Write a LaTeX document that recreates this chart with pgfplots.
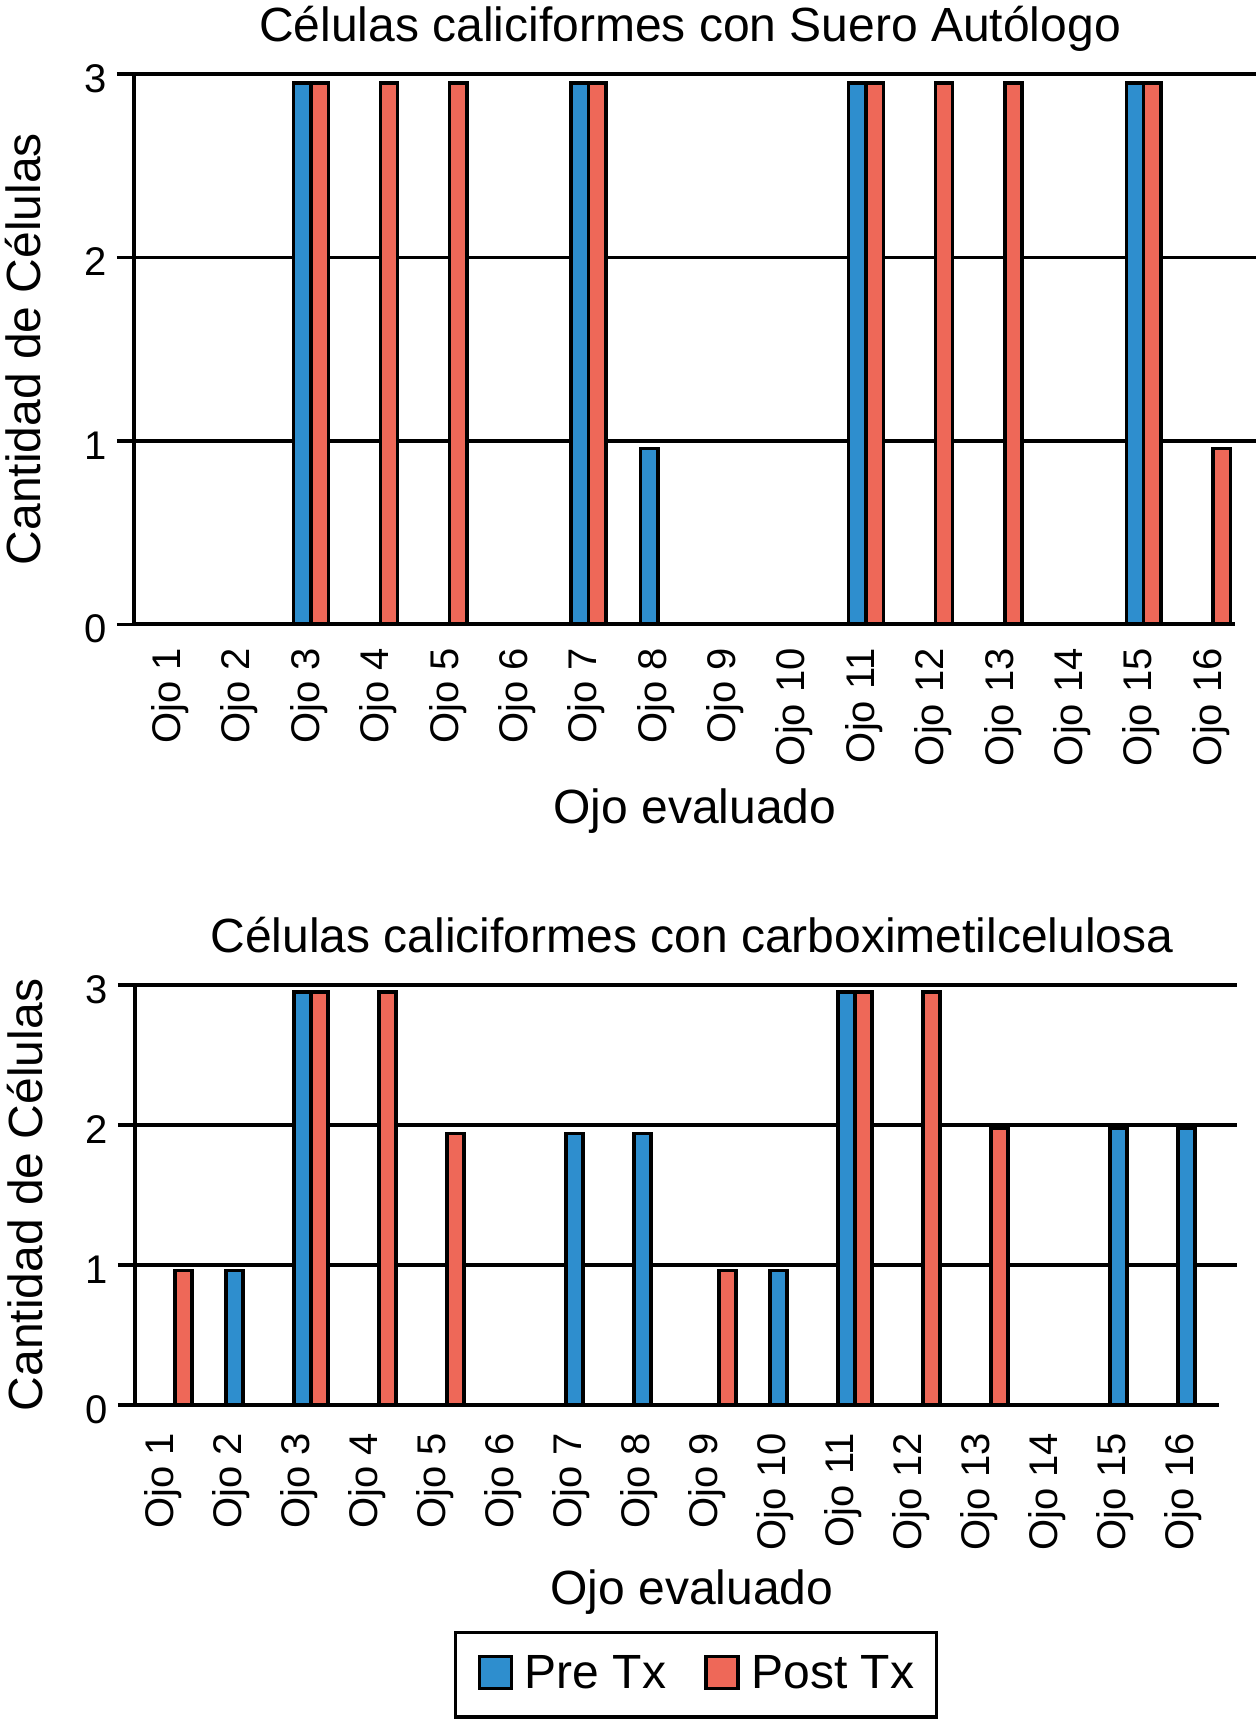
\documentclass[border=0pt]{standalone}
\usepackage{fontspec}
\setmainfont{Liberation Sans}
\usepackage{pgfplots}
\pgfplotsset{compat=1.18}
\definecolor{preblue}{RGB}{46,142,206}
\definecolor{postred}{RGB}{238,104,88}

\pgfplotsset{
  common/.style={
    scale only axis,
    clip=false,
    ymin=0, ymax=3,
    axis x line*=bottom, axis y line*=left,
    axis line style={-, black, line width=0.95pt},
    x axis line style={draw=none},
    ytick={1,2,3},
    extra y ticks={0},
    extra y tick style={grid=none},
    ymajorgrids,
    major grid style={black, line width=0.85pt},
    ytick pos=left,
    tick align=outside,
    major tick length=4.25pt,
    ytick style={black, line width=0.85pt},
    xtick={0,...,15},
    xticklabels={Ojo 1,Ojo 2,Ojo 3,Ojo 4,Ojo 5,Ojo 6,Ojo 7,Ojo 8,Ojo 9,Ojo 10,Ojo 11,Ojo 12,Ojo 13,Ojo 14,Ojo 15,Ojo 16},
    xtick style={draw=none},
    /pgf/number format/assume math mode=true,
    tick label style={font=\fontsize{10}{12}\selectfont},
    yticklabel style={anchor=east, inner sep=0pt, xshift=-2.25pt, yshift=-1.1pt},
    every axis title/.style={at={(axis description cs:0.5,1)}, anchor=base, yshift=8.1pt, font=\fontsize{12}{14}\selectfont},
    every axis x label/.style={at={(axis description cs:0.5,0)}, anchor=base, yshift=-49.75pt, font=\fontsize{12}{14}\selectfont},
    every axis y label/.style={at={(axis description cs:0,0.5)}, xshift=-23.25pt, rotate=90, anchor=base, font=\fontsize{12}{14}\selectfont},
    xlabel={Ojo evaluado},
    ylabel={Cantidad de Células},
  },
  legsq/.style={legend image code/.code={\draw[##1,/tikz/.cd,draw=black,line width=0.85pt] (0pt,0pt) rectangle (8pt,8pt);}},
  barpre/.style={ybar, bar width=0.25, bar shift=-0.125, fill=preblue, draw=black, line width=0.85pt, legsq},
  barpost/.style={ybar, bar width=0.25, bar shift=0.125, fill=postred, draw=black, line width=0.85pt, legsq},
}

\begin{document}
\begin{tikzpicture}
\useasboundingbox (0,0) rectangle (314pt,430.5pt);

% Top chart: Suero Autologo
\begin{axis}[common,
  at={(33.5pt,274.4pt)}, anchor=south west,
  width=280.5pt, height=137.6pt,
  xmin=-0.55, xmax=15.62,
  title={Células caliciformes con Suero Autólogo},
  title style={xshift=-1.25pt},
  xticklabel style={xshift=-0.5pt, yshift=-1.5pt, rotate=90, anchor=east, inner sep=0pt},
]
\addplot[barpre] coordinates {(0,0) (1,0) (2,2.95) (3,0) (4,0) (5,0) (6,2.95) (7,0.96) (8,0) (9,0) (10,2.95) (11,0) (12,0) (13,0) (14,2.95) (15,0)};
\addplot[barpost] coordinates {(0,0) (1,0) (2,2.95) (3,2.95) (4,2.95) (5,0) (6,2.95) (7,0) (8,0) (9,0) (10,2.95) (11,2.95) (12,2.95) (13,0) (14,2.95) (15,0.96)};
\draw[black, line width=0.95pt] (axis cs:-0.55,0) -- (axis cs:15.32,0);
\end{axis}

% Bottom chart: carboximetilcelulosa
\begin{axis}[common,
  at={(33.75pt,79.25pt)}, anchor=south west,
  width=275.5pt, height=105pt,
  xmin=-0.59, xmax=15.62,
  title={Células caliciformes con carboximetilcelulosa},
  title style={xshift=1.5pt},
  x label style={xshift=1.5pt},
  xticklabel style={xshift=-3pt, yshift=-2.5pt, rotate=90, anchor=east, inner sep=0pt},
  legend columns=2,
  legend style={at={(axis description cs:0.509,-0.7476)}, anchor=south,
    draw=black, line width=0.9pt, inner xsep=5.5pt, inner ysep=5.6pt,
    font=\fontsize{12}{14}\selectfont,
    nodes={inner sep=0pt, anchor=base west},
    /tikz/every odd column/.append style={column sep=3pt},
    /tikz/every even column/.append style={column sep=9.5pt}},
]
\addplot[barpre] coordinates {(0,0) (1,0.96) (2,2.95) (3,0) (4,0) (5,0) (6,1.94) (7,1.94) (8,0) (9,0.96) (10,2.95) (11,0) (12,0) (13,0) (14,1.98) (15,1.98)};
\addlegendentry{Pre Tx}
\addplot[barpost] coordinates {(0,0.96) (1,0) (2,2.95) (3,2.95) (4,1.94) (5,0) (6,0) (7,0) (8,0.96) (9,0) (10,2.95) (11,2.95) (12,1.98) (13,0) (14,0) (15,0)};
\addlegendentry{Post Tx}
\draw[black, line width=0.95pt] (axis cs:-0.59,0) -- (axis cs:15.35,0);
\end{axis}
\end{tikzpicture}
\end{document}
